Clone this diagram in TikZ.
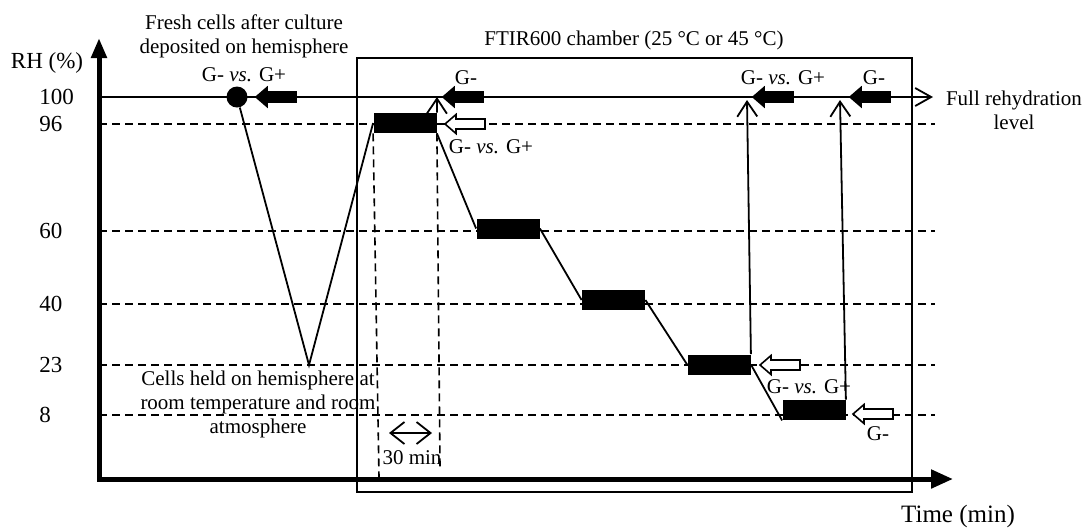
\documentclass[tikz,border=0pt]{standalone}
\usepackage{fontspec}
\setmainfont{Liberation Serif}
\usetikzlibrary{arrows.meta}
\tikzset{
  pics/fatarrow/.style={code={
    \draw[line width=.8pt,fill=#1] (0,0) -- (11,-9.5) -- (11,-5) -- (40,-5) -- (40,5) -- (11,5) -- (11,9.5) -- cycle;}}
}
\begin{document}
\begin{tikzpicture}[x=.5pt,y=-.5pt,
    every node/.style={font=\fontsize{10.5}{12}\selectfont,align=center,inner sep=0pt},
    tick/.style={anchor=west,font=\fontsize{11.5}{13}\selectfont},
    bar/.style={fill=black,minimum width=31.5pt,minimum height=10pt},
    rhline/.style={line width=.8pt,dash pattern=on 4pt off 2.5pt},
    link/.style={line width=.9pt},
    rise/.style={line width=.9pt,-{Straight Barb[length=7.5pt,width=10pt]}}]
  \useasboundingbox (0,0) rectangle (1086,527);

  \coordinate (origin) at (99,481);
  \coordinate (ytop) at (99,38);
  \coordinate (xleft) at (97,479);
  \coordinate (xend) at (953,479);
  \draw[line width=2.5pt,-{Triangle[length=10pt,width=7.5pt]}] (origin) -- (ytop);
  \draw[line width=2.5pt,-{Triangle[length=11pt,width=9pt]}] (xleft) -- (xend);
  \node (rh) at (47,63) {\fontsize{11.5}{13}\selectfont RH (\%)};
  \node (time) at (958,516) {\fontsize{12.5}{14}\selectfont Time (min)};

  \node[tick] (v100) at (39,97) {100};
  \node[tick] (v96) at (39,124) {96};
  \node[tick] (v60) at (39,231) {60};
  \node[tick] (v40) at (39,304) {40};
  \node[tick] (v23) at (39,365) {23};
  \node[tick] (v8) at (39,415) {8};

  \coordinate (full) at (933,97);
  \draw[link,-{Straight Barb[length=8pt,width=9pt]}] (99,97) -- (full);
  \draw[rhline] (99,124) -- (935,124);
  \draw[rhline] (99,231) -- (935,231);
  \draw[rhline] (99,304) -- (935,304);
  \draw[rhline] (99,365) -- (935,365);
  \draw[rhline] (99,415) -- (935,415);
  \node (rehyd) at (1014,110) {Full rehydration\\level};

  \draw[line width=1pt] (357,58) rectangle (912,492);
  \node (ftir) at (634,40) {FTIR600 chamber (25 °C or 45 °C)};

  \node (fresh) at (244,36) {Fresh cells after culture\\deposited on hemisphere};
  \node (gfresh) at (244,75) {G- \textit{vs.} G+};
  \node[circle,fill=black,minimum size=10.5pt] (dot) at (237,97) {};
  \coordinate (low) at (309,365);
  \node (held) at (258,404) {Cells held on hemisphere at\\room temperature and room\\atmosphere};

  \node[bar] (b1) at (405,123) {};
  \node[bar] (b2) at (508,228.5) {};
  \node[bar] (b3) at (613.5,300) {};
  \node[bar] (b4) at (719,364.5) {};
  \node[bar] (b5) at (814,410) {};

  \coordinate (top1) at (437,97);
  \coordinate (top4) at (747,100);
  \coordinate (top5) at (840,100);
  \draw[link] (dot) -- (low) -- (b1.west);
  \draw[rise] (b1.north east) -- (top1);
  \draw[link] (b1.south east) -- (b2.west);
  \draw[link] (b2.east) -- (b3.west);
  \draw[link] (b3.east) -- (b4.west);
  \draw[link] (b4.east) -- (b5.south west);
  \draw[rise] (b4.north east) -- (top4);
  \draw[rise] (b5.north east) -- (top5);

  \coordinate (d1) at (379,477);
  \coordinate (d2) at (440,467);
  \draw[rhline] (b1.south west) -- (d1);
  \draw[rhline] (b1.south east) -- (d2);
  \coordinate (w1) at (389,433);
  \coordinate (w2) at (432,433);
  \draw[link,{Straight Barb[length=7pt,width=11pt]}-{Straight Barb[length=7pt,width=11pt]}] (w1) -- (w2);
  \node (thirty) at (412,458) {30 min};

  \pic at (256,97) {fatarrow=black};
  \pic at (443,97) {fatarrow=black};
  \pic at (753,97) {fatarrow=black};
  \pic at (850,97) {fatarrow=black};
  \pic at (445,124) {fatarrow=white};
  \pic at (760,365) {fatarrow=white};
  \pic at (853,414) {fatarrow=white};

  \node (g1) at (466,78) {G-};
  \node (g2) at (491,147) {G- \textit{vs.} G+};
  \node (g3) at (783,78) {G- \textit{vs.} G+};
  \node (g4) at (874,78) {G-};
  \node (g5) at (809,387) {G- \textit{vs.} G+};
  \node (g6) at (878,434) {G-};
\end{tikzpicture}
\end{document}
